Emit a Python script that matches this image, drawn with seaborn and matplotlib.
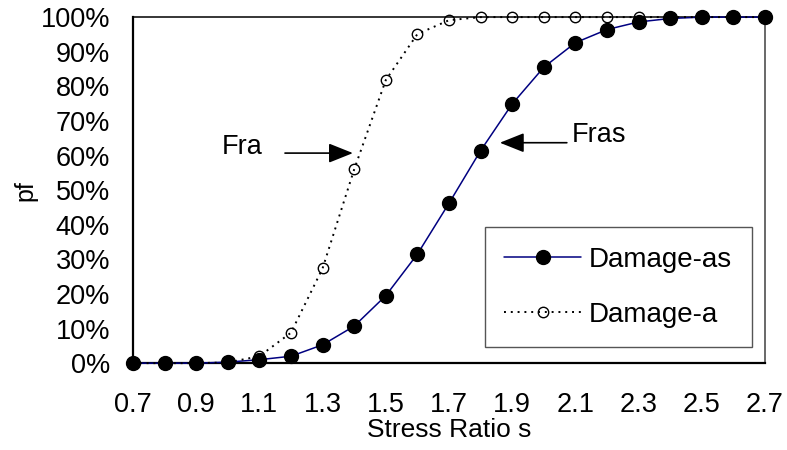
import numpy as np
import pandas as pd
import matplotlib
matplotlib.use("Agg")
import matplotlib.pyplot as plt
import seaborn as sns
from matplotlib.ticker import PercentFormatter

stress_ratio = [0.7, 0.8, 0.9, 1.0, 1.1, 1.2, 1.3, 1.4, 1.5, 1.6, 1.7,
                1.8, 1.9, 2.0, 2.1, 2.2, 2.3, 2.4, 2.5, 2.6, 2.7]
damage_as = [0.000, 0.000, 0.000, 0.003, 0.010, 0.020, 0.053, 0.107, 0.195,
             0.315, 0.462, 0.614, 0.749, 0.855, 0.926, 0.964, 0.986, 0.996,
             1.000, 1.000, 1.000]
damage_a = [0.000, 0.000, 0.000, 0.002, 0.020, 0.088, 0.274, 0.560, 0.818,
            0.951, 0.991, 1.000, 1.000, 1.000, 1.000, 1.000, 1.000, 1.000,
            1.000, 1.000, 1.000]
x_ticks = [0.7, 0.9, 1.1, 1.3, 1.5, 1.7, 1.9, 2.1, 2.3, 2.5, 2.7]
y_ticks = [0.0, 0.1, 0.2, 0.3, 0.4, 0.5, 0.6, 0.7, 0.8, 0.9, 1.0]

sns.set_style("white")
plt.rcParams['font.family'] = ['Liberation Sans', 'DejaVu Sans']
plt.rcParams['text.color'] = 'black'
plt.rcParams['axes.labelcolor'] = 'black'
plt.rcParams['xtick.color'] = 'black'
plt.rcParams['ytick.color'] = 'black'

fig = plt.figure(figsize=(7.87, 4.5), dpi=100)
ax = fig.add_axes([0.169, 0.193, 0.803, 0.769])

sns.lineplot(x=stress_ratio, y=damage_as, ax=ax, color="#000080", lw=1.1,
             marker="o", markersize=10, markerfacecolor="black",
             markeredgecolor="black", markeredgewidth=1,
             label="Damage-as", clip_on=False, zorder=3)
sns.lineplot(x=stress_ratio, y=damage_a, ax=ax, color="black", lw=1.4,
             linestyle=(0, (1, 2.5)), marker="o", markersize=7.5,
             markerfacecolor="none", markeredgecolor="black",
             markeredgewidth=1, label="Damage-a", clip_on=False, zorder=4)

ax.set_xlim(0.7, 2.7)
ax.set_ylim(0, 1)
ax.set_xticks(x_ticks)
ax.set_xticklabels([f"{v:.1f}" for v in x_ticks])
ax.set_yticks(y_ticks)
ax.yaxis.set_major_formatter(PercentFormatter(1.0, decimals=0))
ax.tick_params(axis="both", direction="in", length=8, width=1.0,
               labelsize=19.5, color="#333333", labelcolor="black")
ax.tick_params(axis="x", pad=20.5)
ax.tick_params(axis="y", pad=16.5)

for side in ["left", "bottom"]:
    ax.spines[side].set_color("black")
    ax.spines[side].set_linewidth(1.6)
ax.spines["top"].set_color("black")
ax.spines["top"].set_linewidth(1.1)
ax.spines["right"].set_color("#404040")
ax.spines["right"].set_linewidth(1.1)

ax.set_xlabel("Stress Ratio s", fontsize=19, labelpad=0, color="black")
ax.set_ylabel("pf", fontsize=18, labelpad=2, color="black")

arrow_style = "-|>,head_length=0.75,head_width=0.3"
ax.text(1.045, 0.624, "Fra", fontsize=19.5, ha="center", va="center",
        color="black")
ax.annotate("", xy=(1.396, 0.607), xytext=(1.181, 0.607),
            arrowprops=dict(arrowstyle=arrow_style, lw=1.2, color="black",
                            shrinkA=0, shrinkB=0, mutation_scale=20))
ax.text(2.09, 0.659, "Fras", fontsize=19.5, ha="left", va="center",
        color="black")
ax.annotate("", xy=(1.861, 0.637), xytext=(2.073, 0.637),
            arrowprops=dict(arrowstyle=arrow_style, lw=1.2, color="black",
                            shrinkA=0, shrinkB=0, mutation_scale=20))

leg = ax.legend(loc="lower right", bbox_to_anchor=(0.979, 0.046),
                fontsize=20, frameon=True, fancybox=False, framealpha=1,
                edgecolor="#555555", handlelength=2.75, borderpad=0.7,
                labelspacing=1.05, handletextpad=0.3, borderaxespad=0)
leg.get_frame().set_linewidth(1.0)
for t in leg.get_texts():
    t.set_color("black")

fig.savefig("out.png", dpi=100)
